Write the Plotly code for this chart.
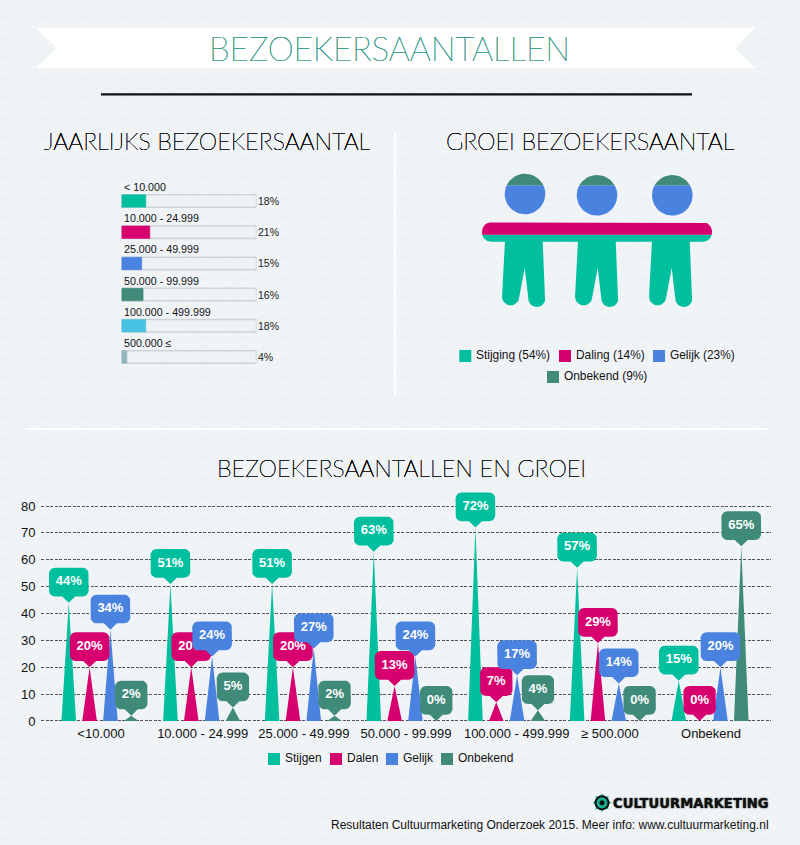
import math
import urllib.parse
import plotly.graph_objects as go

# ---------- data ----------
TITLE = "BEZOEKERSAANTALLEN"
size_labels = ["< 10.000", "10.000 - 24.999", "25.000 - 49.999", "50.000 - 99.999", "100.000 - 499.999", "500.000 ≤"]
size_values = [18, 21, 15, 16, 18, 4]
size_colors = ["#00bf9f", "#d7006f", "#4a82e0", "#3f8a79", "#48c2e2", "#94b5bc"]

growth_labels = ["Stijging", "Daling", "Gelijk", "Onbekend"]
growth_values = [54, 14, 23, 9]

categories = ["<10.000", "10.000 - 24.999", "25.000 - 49.999", "50.000 - 99.999", "100.000 - 499.999", "≥ 500.000", "Onbekend"]
series_names = ["Stijgen", "Dalen", "Gelijk", "Onbekend"]
stijgen = [44, 51, 51, 63, 72, 57, 15]
dalen = [20, 20, 20, 13, 7, 29, 0]
gelijk = [34, 24, 27, 24, 17, 14, 20]
onbekend = [2, 5, 2, 0, 4, 0, 65]
series_values = [stijgen, dalen, gelijk, onbekend]
series_colors = ["#00bf9f", "#d7006f", "#4a82e0", "#3f8a79"]
y_ticks = [0, 10, 20, 30, 40, 50, 60, 70, 80]
tick_nudge_px = [1, 1, 0.5, 1, 10, 1.5, 1]

# ---------- page geometry ----------
W, H = 800, 845
BG = "#eff3f6"
SANS = "Liberation Sans, Arial, sans-serif"
THIN = "Lato, sans-serif"

def fy(p):
    return 1 - p / H

# main chart scale
CAT_PX, CAT0_PX, PX_PER_UNIT, Y0_PX = 101.67, 100.0, 2.6875, 721.0
SPIKE_STEP, SPIKE_BASE = 20.83, 14.6

def cat_x(i, px=0.0):
    return i + px / CAT_PX

fig = go.Figure()

# ---------- spikes ----------
for s, (name, vals, col) in enumerate(zip(series_names, series_values, series_colors)):
    xs, ys = [], []
    for i, v in enumerate(vals):
        c = (s - 1.5) * SPIKE_STEP
        xs += [cat_x(i, c - SPIKE_BASE / 2), cat_x(i, c), cat_x(i, c + SPIKE_BASE / 2), None]
        ys += [0, v, 0, None]
    fig.add_trace(go.Scatter(x=xs, y=ys, mode="lines", fill="toself", fillcolor=col,
                             line=dict(width=0, color=col), hoverinfo="skip", showlegend=False, name=name))

# ---------- callouts ----------
def callout_outline(w, h=28.7, tip=6.3, r=6.0, pw=6.5):
    """Outline in px, relative to the pointer tip, y upward."""
    pts = [(0, 0), (pw, tip)]
    corners = [(w / 2 - r, tip + r, -90, 0), (w / 2 - r, tip + h - r, 0, 90),
               (-w / 2 + r, tip + h - r, 90, 180), (-w / 2 + r, tip + r, 180, 270)]
    for cx, cy, a0, a1 in corners:
        for k in range(7):
            a = math.radians(a0 + (a1 - a0) * k / 6)
            pts.append((cx + r * math.cos(a), cy + r * math.sin(a)))
    pts.append((-pw, tip))
    return pts

for s, (name, vals, col) in enumerate(zip(series_names, series_values, series_colors)):
    c = (s - 1.5) * SPIKE_STEP
    xs, ys, tx, ty, tt = [], [], [], [], []
    for i, v in enumerate(vals):
        label = f"{v}%"
        w = 39.7 if len(label) == 3 else 32.5
        for dx, dy in callout_outline(w):
            xs.append(cat_x(i, c + dx))
            ys.append(v + dy / PX_PER_UNIT)
        xs.append(None)
        ys.append(None)
        tx.append(cat_x(i, c))
        ty.append(v + 20.6 / PX_PER_UNIT)
        tt.append(label)
    fig.add_trace(go.Scatter(x=xs, y=ys, mode="lines", fill="toself", fillcolor=col,
                             line=dict(width=0, color=col), hoverinfo="skip", showlegend=False))
    fig.add_trace(go.Scatter(x=tx, y=ty, mode="text", text=tt, textposition="middle center",
                             textfont=dict(family=SANS, size=13, color="white", weight=700),
                             hoverinfo="skip", showlegend=False))

# ---------- small bars (x2/y2) ----------
fig.add_trace(go.Bar(y=size_labels, x=[100] * 6, orientation="h", xaxis="x2", yaxis="y2", width=0.4,
                     marker=dict(color="#eef2f5", line=dict(color="#cdd3d6", width=1.5)),
                     hoverinfo="skip", showlegend=False))
fig.add_trace(go.Bar(y=size_labels, x=size_values, orientation="h", xaxis="x2", yaxis="y2", width=0.4,
                     marker=dict(color=size_colors, line=dict(color=size_colors, width=0.5)),
                     hoverinfo="skip", showlegend=False))

annotations = []
for lab, v in zip(size_labels, size_values):
    annotations.append(dict(x=0, y=lab, xref="x2", yref="y2", text=lab, showarrow=False, xanchor="left",
                            xshift=0, yshift=14, font=dict(family=SANS, size=10.7, color="#111")))
    annotations.append(dict(x=100, y=lab, xref="x2", yref="y2", text=f"{v}%", showarrow=False, xanchor="left",
                            xshift=-1, font=dict(family=SANS, size=10.5, color="#222")))

# ---------- pictogram (x3/y3, page pixels) ----------
ICON_TOP, ICON_BOTTOM = 173.3, 307.0

def arc(cx, cy, rx, a0, a1, n=12):
    return [(cx + rx * math.cos(math.radians(a0 + (a1 - a0) * k / n)),
             cy + rx * math.sin(math.radians(a0 + (a1 - a0) * k / n))) for k in range(n + 1)]

def legs(dx):
    p = [(505 + dx, 241)]
    p += [(2 * (510.65 + dx) - x, y) for x, y in arc(510.65 + dx, 296.7, 8.65, 0, 180, 14)]
    p += [(524.7 + dx, 267.7)]
    p += [(2 * (536.8 + dx) - x, y) for x, y in arc(536.8 + dx, 298.5, 8.5, 0, 180, 14)]
    p += [(542.7 + dx, 241)]
    return p

def rounded_bar(x0, x1, y0, y1, r):
    p = arc(x0 + r, y0 + r, r, 180, 270) + arc(x1 - r, y0 + r, r, 270, 360)
    p += arc(x1 - r, y1 - r, r, 0, 90) + arc(x0 + r, y1 - r, r, 90, 180)
    return p

def oriented(poly):
    area = sum(poly[i][0] * poly[(i + 1) % len(poly)][1] - poly[(i + 1) % len(poly)][0] * poly[i][1]
               for i in range(len(poly)))
    return poly if area > 0 else poly[::-1]

def clip_y(poly, limit, keep_above):
    out = []
    inside = (lambda p: p[1] <= limit) if keep_above else (lambda p: p[1] >= limit)
    for i, a in enumerate(poly):
        b = poly[(i + 1) % len(poly)]
        if inside(a):
            out.append(a)
        if inside(a) != inside(b):
            t = (limit - a[1]) / (b[1] - a[1])
            out.append((a[0] + t * (b[0] - a[0]), limit))
    return out

silhouette = [rounded_bar(482, 712, 222.4, 241.7, 9)]
silhouette += [legs(d) for d in (0, 73, 147)]
silhouette += [arc(cx, cy, 20.3, 0, 360, 48)[:-1] for cx, cy in ((525, 194), (597, 195.3), (672.3, 195.3))]

bottom = ICON_BOTTOM
span = ICON_BOTTOM - ICON_TOP
for v, col in zip(growth_values, series_colors):
    top = bottom - span * v / 100
    xs, ys = [], []
    for poly in silhouette:
        part = clip_y(clip_y(poly, bottom + 0.01, True), top, False)
        if len(part) > 2:
            part = oriented(part)
            xs += [p[0] for p in part] + [None]
            ys += [p[1] for p in part] + [None]
    fig.add_trace(go.Scatter(x=xs, y=ys, xaxis="x3", yaxis="y3", mode="lines", fill="toself", fillcolor=col,
                             line=dict(width=0, color=col), hoverinfo="skip", showlegend=False))
    bottom = top

# ---------- custom legends (x3/y3) ----------
def legend(items, font_size):
    fig.add_trace(go.Scatter(x=[i[0] + 6 for i in items], y=[i[1] for i in items], xaxis="x3", yaxis="y3",
                             mode="markers", marker=dict(symbol="square", size=12, color=[i[3] for i in items]),
                             hoverinfo="skip", showlegend=False))
    for x, y, text, _ in items:
        annotations.append(dict(x=x + 15, y=y - 0.7, xref="x3", yref="y3", text=text, showarrow=False, xanchor="left",
                                font=dict(family=SANS, size=font_size, color="#111")))

top_legend_pos = [(459.3, 356), (559, 356), (653, 356), (547, 377)]
legend([(p[0], p[1], f"{l} ({v}%)", c) for p, l, v, c in zip(top_legend_pos, growth_labels, growth_values, series_colors)], 11.9)
main_legend_pos = [(268, 759), (330, 759), (386, 759), (441, 759)]
legend([(p[0], p[1], l, c) for p, l, c in zip(main_legend_pos, series_names, series_colors)], 12)

# ---------- headings and footer ----------
def page_text(x, y, text, size, color, family=SANS, weight=None, anchor="center", shadow=None):
    f = dict(family=family, size=size, color=color)
    if weight:
        f["weight"] = weight
    if shadow:
        f["shadow"] = shadow
    annotations.append(dict(x=x, y=y, xref="x3", yref="y3", text=text, showarrow=False,
                            xanchor=anchor, yanchor="middle", font=f))

def thicken(color):
    return ", ".join([f"0 0 0.5px {color}"] * 4) + f", 0.3px 0 0 {color}"

page_text(389.5, 48, TITLE, 33, "#41a08e", THIN, 200, shadow=thicken("#41a08e"))
page_text(207, 141, "JAARLIJKS BEZOEKERSAANTAL", 23.4, "#000", THIN, 200, shadow=thicken("#000"))
page_text(590.5, 141, "GROEI BEZOEKERSAANTAL", 23.4, "#000", THIN, 200, shadow=thicken("#000"))
page_text(401, 468, "BEZOEKERSAANTALLEN EN GROEI", 23.4, "#000", THIN, 200, shadow=thicken("#000"))
page_text(771, 803, "CULTUURMARKETING", 13.2, "#111", "DejaVu Sans", 700, "right", "0 0 1.5px #000")
page_text(771, 825, "Resultaten Cultuurmarketing Onderzoek 2015. Meer info: www.cultuurmarketing.nl", 12, "#111", SANS, None, "right")

# ---------- page decoration ----------
def page_shape(**kw):
    return dict(xref="x3", yref="y3", layer="below", **kw)

shapes = [
    page_shape(type="path", path="M36,28 L755,28 L735,48 L755,68 L36,68 L57,48 Z", fillcolor="white", line=dict(width=0)),
    page_shape(type="line", x0=101, x1=692, y0=94.3, y1=94.3, line=dict(color="#111", width=2.2)),
    page_shape(type="line", x0=395, x1=395, y0=133, y1=395, line=dict(color="white", width=2)),
    page_shape(type="line", x0=25, x1=768, y0=429, y1=429, line=dict(color="white", width=2)),
]
# logo mark
star = []
for k in range(16):
    a = math.radians(k * 22.5)
    r = 9.2 if k % 2 == 0 else 6.5
    star.append(f"{'M' if k == 0 else 'L'}{602 + r * math.cos(a):.2f},{802.8 + r * math.sin(a):.2f}")
shapes.append(page_shape(type="path", path=" ".join(star) + " Z", fillcolor="#19b598", line=dict(width=0)))
shapes.append(page_shape(type="circle", x0=595.5, x1=608.5, y0=796.3, y1=809.3, fillcolor="#16ad90", line=dict(color="#111", width=2)))
shapes.append(page_shape(type="circle", x0=599.5, x1=604.5, y0=800.3, y1=805.3, fillcolor="#111", line=dict(width=0)))

# paper texture
tile = ("<svg xmlns='http://www.w3.org/2000/svg' width='800' height='845'><defs>"
        "<pattern id='p' width='20' height='10' patternUnits='userSpaceOnUse'>"
        "<path d='M0 5 Q5 0 10 5 T20 5' fill='none' stroke='white' stroke-opacity='0.3' stroke-width='1.2'/>"
        "<path d='M0 10 Q5 5 10 10 T20 10' fill='none' stroke='#e3e9ed' stroke-opacity='0.2' stroke-width='1'/>"
        "</pattern></defs><rect width='800' height='845' fill='url(#p)'/></svg>")
texture = "data:image/svg+xml," + urllib.parse.quote(tile)

# ---------- layout ----------
fig.update_layout(
    width=W, height=H, margin=dict(l=0, r=0, t=0, b=0, pad=0, autoexpand=False), autosize=False,
    paper_bgcolor=BG, plot_bgcolor="rgba(0,0,0,0)", showlegend=False, barmode="overlay",
    annotations=annotations, shapes=shapes, hovermode=False,
    images=[dict(source=texture, xref="paper", yref="paper", x=0, y=1, sizex=1, sizey=1,
                 xanchor="left", yanchor="top", sizing="stretch", layer="below")],
    xaxis=dict(domain=[41 / W, 771 / W], range=[(41 - CAT0_PX) / CAT_PX, (771 - CAT0_PX) / CAT_PX],
               tickmode="array", tickvals=[cat_x(i, n) for i, n in enumerate(tick_nudge_px)], ticktext=categories,
               ticks="", showgrid=False, zeroline=False, showline=False,
               tickfont=dict(family=SANS, size=13, color="#111"), anchor="y"),
    yaxis=dict(domain=[fy(Y0_PX + PX_PER_UNIT), fy(Y0_PX - 90 * PX_PER_UNIT)], range=[-1, 90],
               tickmode="array", tickvals=y_ticks, ticks="outside", ticklen=2, tickcolor="rgba(0,0,0,0)",
               showgrid=True, gridcolor="#555", griddash="3px,1.5px", gridwidth=1, zeroline=False, showline=False,
               tickfont=dict(family=SANS, size=13, color="#111"), anchor="x"),
    xaxis2=dict(domain=[121.5 / W, 256.5 / W], range=[0, 100], visible=False, anchor="y2"),
    yaxis2=dict(domain=[fy(372.6), fy(185.4)], range=[5.5, -0.5], type="category",
                categoryorder="array", categoryarray=size_labels, visible=False, anchor="x2"),
    xaxis3=dict(domain=[0, 1], range=[0, W], visible=False, anchor="y3", fixedrange=True),
    yaxis3=dict(domain=[0, 1], range=[H, 0], visible=False, anchor="x3", fixedrange=True),
)

fig.write_html("out.html", config=dict(displayModeBar=False),
               post_script="document.body.style.margin='0';document.documentElement.style.overflow='hidden';document.body.style.background='%s';" % BG)
